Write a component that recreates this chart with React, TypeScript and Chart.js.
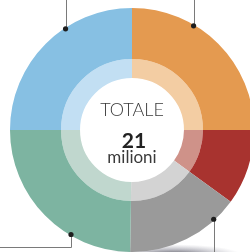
import React, { useEffect, useRef } from "react";
import { Chart, registerables } from "chart.js";

Chart.register(...registerables);

const categories = ["Segmento A", "Segmento B", "Segmento C", "Segmento D", "Segmento E"];
const values = [5.25, 2.1, 3.2, 5.2, 5.25];
const outerColors = ["#E49A50", "#A8332F", "#9A9A9A", "#7DB4A1", "#87C0E3"];
const innerColors = ["#F3CDA3", "#CF9289", "#D3D3D3", "#C0D7CE", "#C2DFF3"];
// where along each slice the leader dot sits (fraction of slice), and its direction
const calloutFrac: (number | null)[] = [0.34, null, 0.21, 0.33, 0.63];
const calloutDir: (string | null)[] = ["up", null, "down", "downleft", "up"];
const centerTitle = "TOTALE";
const centerValue = "21";
const centerUnit = "milioni";

const shadowPlugin = {
  id: "bottomShadow",
  beforeDatasetsDraw(chart: any) {
    const ctx = chart.ctx;
    const arc = chart.getDatasetMeta(0).data[0];
    if (!arc) return;
    const { x, y, outerRadius } = arc.getProps(["x", "y", "outerRadius"], true);
    const cx = x + outerRadius * 0.35;
    const cy = y + outerRadius + 3;
    ctx.save();
    ctx.translate(cx, cy);
    ctx.scale(1, 0.16);
    const g = ctx.createRadialGradient(0, 0, 0, 0, 0, outerRadius * 0.55);
    g.addColorStop(0, "rgba(20,20,30,0.75)");
    g.addColorStop(0.5, "rgba(60,60,80,0.35)");
    g.addColorStop(1, "rgba(120,120,140,0)");
    ctx.fillStyle = g;
    ctx.beginPath();
    ctx.arc(0, 0, outerRadius * 0.55, 0, Math.PI * 2);
    ctx.fill();
    ctx.restore();
  },
};

const calloutPlugin = {
  id: "callouts",
  afterDatasetsDraw(chart: any) {
    const ctx = chart.ctx;
    const meta = chart.getDatasetMeta(0);
    meta.data.forEach((arc: any, i: number) => {
      const f = calloutFrac[i];
      if (f == null) return;
      const p = arc.getProps(["x", "y", "startAngle", "endAngle", "outerRadius"], true);
      const a = p.startAngle + f * (p.endAngle - p.startAngle);
      const px = p.x + Math.cos(a) * (p.outerRadius - 1);
      const py = p.y + Math.sin(a) * (p.outerRadius - 1);
      ctx.save();
      ctx.strokeStyle = "#7a7a7a";
      ctx.lineWidth = 1;
      ctx.beginPath();
      const sx = Math.round(px) + 0.5;
      ctx.moveTo(sx, py);
      const d = calloutDir[i];
      if (d === "up") ctx.lineTo(sx, 0);
      else if (d === "down") ctx.lineTo(sx, chart.height);
      else if (d === "downleft") {
        const ey = Math.round(py + 13) + 0.5;
        ctx.lineTo(sx, ey);
        ctx.lineTo(0, ey);
      }
      ctx.stroke();
      ctx.fillStyle = "#1e1e1e";
      ctx.beginPath();
      ctx.arc(px, py, 2.6, 0, Math.PI * 2);
      ctx.fill();
      ctx.restore();
    });
  },
};

const centerTextPlugin = {
  id: "centerText",
  afterDraw(chart: any) {
    const ctx = chart.ctx;
    const arc = chart.getDatasetMeta(0).data[0];
    if (!arc) return;
    const { x, y } = arc.getProps(["x", "y"], true);
    ctx.save();
    ctx.textAlign = "center";
    ctx.textBaseline = "alphabetic";
    ctx.fillStyle = "#3a3a3a";
    ctx.font = "300 18px Lato";
    ctx.fillText(centerTitle, x, y - 14);
    ctx.fillStyle = "#222222";
    ctx.font = "bold 21px Lato";
    ctx.fillText(centerValue, x + 2, y + 18);
    ctx.fillStyle = "#3a3a3a";
    ctx.font = "400 17px Lato";
    ctx.fillText(centerUnit, x, y + 33);
    ctx.restore();
  },
};

export default function App() {
  const ref = useRef<HTMLCanvasElement>(null);
  useEffect(() => {
    if (!ref.current) return;
    const chart = new Chart(ref.current, {
      type: "doughnut",
      data: {
        labels: categories,
        datasets: [
          { data: values, backgroundColor: outerColors, borderWidth: 0, weight: 51 },
          { data: values, backgroundColor: innerColors, borderWidth: 0, weight: 19 },
        ],
      },
      options: {
        responsive: false,
        animation: false,
        cutout: "42.6%",
        layout: { padding: { left: 10, top: 8, right: 16, bottom: 18 } },
        plugins: { legend: { display: false }, tooltip: { enabled: false } },
      },
      plugins: [shadowPlugin, calloutPlugin, centerTextPlugin],
    } as any);
    return () => chart.destroy();
  }, []);
  return (
    <div
      style={{
        position: "fixed",
        left: 0,
        top: 0,
        width: 250,
        height: 252,
        overflow: "hidden",
        background: "#fff",
      }}
    >
      <canvas ref={ref} width={270} height={270} style={{ display: "block", width: 270, height: 270 }} />
    </div>
  );
}
